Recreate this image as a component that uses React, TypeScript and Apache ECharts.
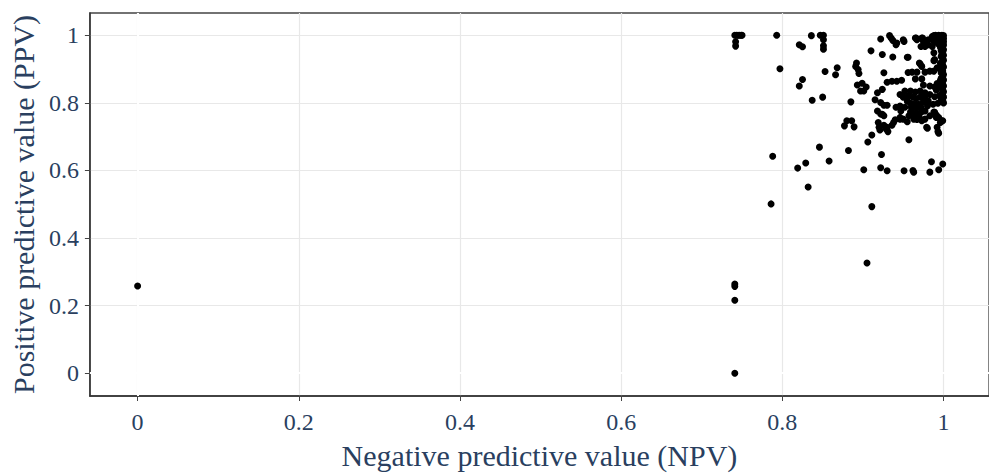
import React, { useEffect, useRef } from "react";
import * as echarts from "echarts";

const xTickValues = [0, 0.2, 0.4, 0.6, 0.8, 1];
const yTickValues = [0, 0.2, 0.4, 0.6, 0.8, 1];
const xAxisTitle = "Negative predictive value (NPV)";
const yAxisTitle = "Positive predictive value (PPV)";

// [NPV, PPV]
const outlierPoints = [
  [0, 0.258],
  [0.741, 0], [0.741, 0.216], [0.741, 0.257], [0.741, 0.264],
  [0.786, 0.501], [0.832, 0.551], [0.911, 0.493], [0.905, 0.326],
  [0.788, 0.642], [0.819, 0.607], [0.829, 0.622], [0.858, 0.628],
  [0.846, 0.669], [0.882, 0.659],
];

const leftTopPoints = [
  [0.741, 1.0], [0.743, 1.0], [0.745, 1.0], [0.747, 1.0], [0.749, 1.0], [0.75, 1.0],
  [0.742, 0.981], [0.742, 0.968],
  [0.793, 1.0], [0.836, 0.999], [0.847, 1.0], [0.851, 1.0],
  [0.851, 0.987], [0.851, 0.969], [0.851, 0.959],
  [0.821, 0.972], [0.825, 0.966],
  [0.797, 0.901], [0.853, 0.893], [0.868, 0.904], [0.866, 0.883],
  [0.825, 0.869], [0.821, 0.85], [0.837, 0.808], [0.85, 0.817],
  [0.885, 0.803], [0.88, 0.747], [0.886, 0.747], [0.877, 0.732], [0.889, 0.729],
];

const lowerClusterPoints = [
  [0.918, 0.776], [0.924, 0.766], [0.947, 0.776],
  [0.959, 0.773], [0.961, 0.77], [0.963, 0.764], [0.966, 0.766], [0.969, 0.768],
  [0.97, 0.757], [0.967, 0.751], [0.964, 0.754], [0.972, 0.772], [0.974, 0.776],
  [0.977, 0.776], [0.988, 0.773], [0.991, 0.764], [0.994, 0.757], [0.999, 0.747],
  [0.919, 0.742], [0.921, 0.72], [0.929, 0.722], [0.931, 0.715],
  [0.936, 0.734], [0.938, 0.742], [0.94, 0.75], [0.946, 0.752], [0.955, 0.744],
  [0.98, 0.725], [0.993, 0.715], [0.994, 0.71], [0.911, 0.705], [0.906, 0.684],
  [0.957, 0.691], [0.923, 0.647], [0.985, 0.626], [0.999, 0.619],
  [0.901, 0.602], [0.922, 0.608], [0.93, 0.599], [0.951, 0.599],
  [0.962, 0.6], [0.963, 0.595], [0.983, 0.595], [0.994, 0.602],
  [0.922, 0.767], [0.926, 0.762], [0.946, 0.757], [0.95, 0.752], [0.957, 0.762],
  [0.963, 0.752], [0.969, 0.757], [0.973, 0.747], [0.977, 0.752],
  [0.926, 0.734], [0.92, 0.728], [0.93, 0.728],
  [0.983, 0.762], [0.989, 0.772], [0.991, 0.757], [0.996, 0.742], [0.998, 0.747],
  [0.979, 0.728], [0.992, 0.728],
];

const middleClusterPoints = [
  [0.892, 0.918], [0.891, 0.908], [0.894, 0.899], [0.895, 0.887],
  [0.97, 0.918], [0.973, 0.908], [0.988, 0.925], [0.926, 0.889],
  [0.961, 0.891], [0.967, 0.891], [0.977, 0.891], [0.983, 0.894], [0.988, 0.894],
  [0.965, 0.871], [0.973, 0.871], [0.996, 0.866],
  [0.93, 0.861], [0.936, 0.864], [0.942, 0.864], [0.948, 0.867],
  [0.893, 0.853], [0.899, 0.858], [0.904, 0.847], [0.897, 0.835], [0.901, 0.835],
  [0.918, 0.83], [0.924, 0.84],
  [0.975, 0.853], [0.983, 0.85], [0.989, 0.847], [0.991, 0.838], [0.992, 0.857],
  [0.952, 0.835], [0.959, 0.835], [0.965, 0.832], [0.971, 0.835], [0.977, 0.83],
  [0.946, 0.825], [0.95, 0.817], [0.956, 0.82], [0.962, 0.817], [0.966, 0.813],
  [0.971, 0.817], [0.977, 0.82], [0.983, 0.825], [0.989, 0.818], [0.995, 0.822],
  [0.915, 0.809], [0.922, 0.801], [0.926, 0.793], [0.93, 0.793],
  [0.955, 0.805], [0.959, 0.799], [0.963, 0.796], [0.969, 0.796], [0.975, 0.803],
  [0.981, 0.806], [0.987, 0.796], [0.993, 0.799],
  [0.941, 0.787], [0.946, 0.791], [0.952, 0.787], [0.96, 0.787], [0.966, 0.784],
  [0.972, 0.787], [0.98, 0.791],
];

const upperClusterPoints = [
  [0.922, 0.989], [0.933, 0.999], [0.935, 0.992], [0.937, 0.985], [0.941, 0.972],
  [0.942, 0.977], [0.95, 0.987], [0.951, 0.982], [0.965, 0.992], [0.966, 0.992],
  [0.967, 0.987], [0.973, 0.992], [0.974, 0.992], [0.975, 0.982], [0.976, 0.972],
  [0.972, 0.967], [0.977, 0.967], [0.981, 0.972], [0.986, 0.967], [0.981, 0.987],
  [0.986, 0.992], [0.988, 0.982],
  [0.91, 0.954], [0.924, 0.943], [0.937, 0.936], [0.955, 0.935], [0.956, 0.935],
  [0.988, 0.948], [0.989, 0.928], [0.971, 0.915], [0.992, 0.904], [0.996, 0.899],
  [0.956, 0.89],
];

const topRightPoints = [
  [0.99, 1.0], [0.992, 0.997], [0.994, 1.0], [0.996, 0.998], [0.998, 1.0], [1.0, 0.999],
  [0.999, 0.994], [0.997, 0.991], [0.995, 0.993], [0.993, 0.99], [0.991, 0.992],
  [0.989, 0.995], [0.988, 0.999], [0.986, 0.996], [1.0, 0.99], [0.998, 0.986],
  [0.996, 0.984], [0.994, 0.982], [0.992, 0.985], [0.99, 0.981], [1.0, 0.981],
  [0.999, 0.977], [0.997, 0.975], [0.995, 0.972], [0.993, 0.976], [1.0, 0.971],
  [0.998, 0.968], [0.996, 0.965], [0.999, 0.962], [1.0, 0.957], [0.997, 0.955],
  [0.999, 0.95], [0.998, 0.945], [1.0, 0.941], [0.997, 0.937], [0.999, 0.932],
  [1.0, 0.926], [0.998, 0.921], [0.996, 0.917], [0.999, 0.912], [1.0, 0.906],
  [0.998, 0.9], [0.999, 0.894], [0.997, 0.889], [1.0, 0.884], [0.999, 0.878],
  [0.997, 0.873], [1.0, 0.868], [0.998, 0.862], [0.999, 0.856], [1.0, 0.85],
  [0.997, 0.845], [0.999, 0.839], [1.0, 0.833], [0.998, 0.828], [0.999, 0.822],
  [1.0, 0.817], [0.997, 0.812], [0.999, 0.806], [1.0, 0.8],
];

const allPoints = [
  ...outlierPoints,
  ...leftTopPoints,
  ...lowerClusterPoints,
  ...middleClusterPoints,
  ...upperClusterPoints,
  ...topRightPoints,
];

const textColor = "#2a3f5f";
const fontFamily = "'Liberation Serif', 'Times New Roman', serif";

export default function App() {
  const ref = useRef<HTMLDivElement>(null);
  useEffect(() => {
    if (!ref.current) return;
    const chart = echarts.init(ref.current, null, { renderer: "svg" });
    const labelStyle = { color: textColor, fontFamily, fontSize: 24 };
    chart.setOption({
      animation: false,
      backgroundColor: "#fff",
      grid: {
        left: 87,
        right: 0,
        top: 13,
        bottom: 76,
        show: true,
        borderColor: "#444",
        borderWidth: 1.3,
        backgroundColor: "#fff",
      },
      xAxis: {
        type: "value",
        min: -0.0592,
        max: 1.0564,
        name: xAxisTitle,
        nameLocation: "middle",
        nameGap: 44,
        nameTextStyle: { color: textColor, fontFamily, fontSize: 30 },
        axisLine: { show: true, onZero: false, lineStyle: { color: "#333", width: 1.5 } },
        axisTick: { show: true, customValues: xTickValues, length: 5, lineStyle: { color: "#444", width: 1 } },
        axisLabel: { ...labelStyle, customValues: xTickValues, margin: 14, formatter: (v: number) => String(v) },
        splitLine: { show: true, lineStyle: { color: "#e8e8e8", width: 1.2 } },
      },
      yAxis: {
        type: "value",
        min: -0.0675,
        max: 1.066,
        name: yAxisTitle,
        nameLocation: "middle",
        nameGap: 51,
        nameRotate: 90,
        nameTextStyle: { color: textColor, fontFamily, fontSize: 30 },
        axisLine: { show: true, onZero: false, lineStyle: { color: "#333", width: 1.5 } },
        axisTick: { show: true, customValues: yTickValues, length: 5, lineStyle: { color: "#444", width: 1 } },
        axisLabel: { ...labelStyle, customValues: yTickValues, margin: 11, formatter: (v: number) => String(v) },
        splitLine: { show: true, lineStyle: { color: "#e8e8e8", width: 1.2 } },
      },
      series: [
        {
          type: "scatter",
          data: [],
          z: 1,
          silent: true,
          markLine: {
            z: 1,
            silent: true,
            symbol: ["none", "none"],
            label: { show: false },
            lineStyle: { color: "#fff", width: 2, type: "solid" },
            data: [{ xAxis: 0 }, { yAxis: 0 }],
          },
        },
        {
          type: "scatter",
          data: allPoints,
          z: 6,
          symbol: "circle",
          symbolSize: 7,
          itemStyle: { color: "#000", opacity: 1 },
        },
      ],
    });
    return () => chart.dispose();
  }, []);
  return (
    <div
      ref={ref}
      style={{ position: "fixed", left: 0, top: 0, width: 989, height: 475, background: "#fff" }}
    />
  );
}
